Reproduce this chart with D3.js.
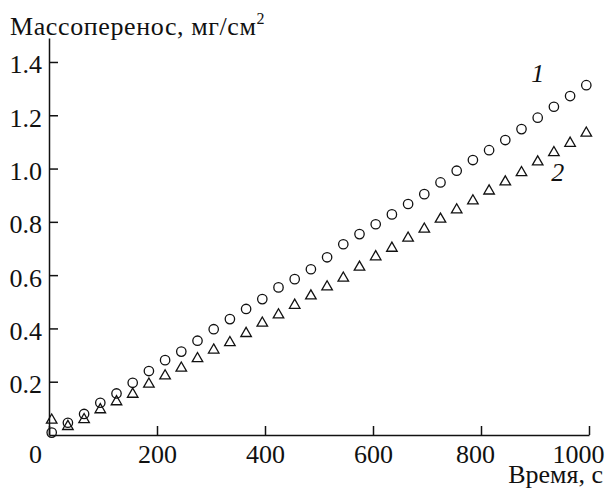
<!DOCTYPE html>
<html><head><meta charset="utf-8">
<script src="https://cdn.jsdelivr.net/npm/d3@7"></script>
<style>
body{margin:0;background:#fff;}
</style></head>
<body><svg id="c" width="605" height="488"></svg>
<script>
const times = [5,35,65,95,125,155,185,215,245,275,305,335,365,395,425,455,485,515,545,575,605,635,665,695,725,755,785,815,845,875,905,935,965,995];
const series1 = [0.009,0.046,0.079,0.121,0.156,0.196,0.240,0.281,0.313,0.354,0.397,0.435,0.473,0.510,0.554,0.585,0.622,0.667,0.716,0.754,0.791,0.828,0.867,0.904,0.948,0.992,1.032,1.069,1.107,1.148,1.191,1.232,1.272,1.313];
const series2 = [0.059,0.035,0.061,0.098,0.128,0.156,0.194,0.225,0.254,0.290,0.322,0.350,0.384,0.423,0.454,0.490,0.525,0.559,0.592,0.633,0.672,0.704,0.742,0.776,0.813,0.848,0.882,0.919,0.953,0.988,1.028,1.063,1.098,1.136];
const xTicks = [0,200,400,600,800,1000];
const yTicks = [0.2,0.4,0.6,0.8,1.0,1.2,1.4];
const yTitle = "Массоперенос, мг/см";
const xTitle = "Время, с";
const seriesLabels = ["1","2"];

const FONT = "'Liberation Serif', Tinos, 'Times New Roman', serif";
const FS = 26;
const svg = d3.select("#c");
const x = d3.scaleLinear().domain([0,1000]).range([49,589]);
const y = d3.scaleLinear().domain([0,1.49]).range([435,38]);

const xAxis = svg.append("g").attr("transform","translate(0,435)")
  .call(d3.axisBottom(x).tickValues(xTicks).tickSize(-9).tickSizeOuter(0).tickFormat(d3.format("d")).tickPadding(10));
const yAxis = svg.append("g").attr("transform","translate(49,0)")
  .call(d3.axisLeft(y).tickValues(yTicks).tickSize(-9).tickSizeOuter(0).tickFormat(d3.format(".1f")).tickPadding(7));
[xAxis,yAxis].forEach(g=>{
  g.attr("font-family",FONT).attr("font-size",FS);
  g.select(".domain").attr("stroke","#111").attr("stroke-width",1.5);
  g.selectAll(".tick line").attr("stroke","#111").attr("stroke-width",1.5);
  g.selectAll(".tick text").style("font-family",FONT).style("font-size",FS+"px").attr("fill","#111");
});
yAxis.selectAll(".tick text").attr("dy","0.42em");
xAxis.selectAll(".tick text").attr("dy","0.71em")
  .attr("dx", d => d===0 ? -14 : d===800 ? -6 : d===1000 ? -11 : 0);

const yt = svg.append("text").attr("x",10).attr("y",35).style("font-family",FONT).style("font-size",FS+"px")
  .style("letter-spacing","0.6px").attr("fill","#111").text(yTitle);
yt.append("tspan").style("font-size","16px").attr("dy",-11).text("2");
svg.append("text").attr("x",603).attr("y",483).attr("text-anchor","end").style("font-family",FONT).style("font-size",FS+"px").attr("fill","#111").text(xTitle);

svg.append("g").selectAll("circle").data(times.map((t,i)=>[t,series1[i]])).join("circle")
  .attr("cx",d=>x(d[0])).attr("cy",d=>y(d[1])).attr("r",4.7)
  .attr("fill","none").attr("stroke","#111").attr("stroke-width",1.3);

const tri = d3.symbol().type(d3.symbolTriangle).size(48);
svg.append("g").selectAll("path").data(times.map((t,i)=>[t,series2[i]])).join("path")
  .attr("d",tri).attr("transform",d=>`translate(${x(d[0])},${y(d[1])+0.8})`)
  .attr("fill","none").attr("stroke","#111").attr("stroke-width",1.3);

svg.append("text").attr("x",x(905)).attr("y",y(1.325)).style("font-family",FONT).style("font-size",FS+"px").style("font-style","italic").attr("fill","#111").attr("text-anchor","middle").text(seriesLabels[0]);
svg.append("text").attr("x",x(942)).attr("y",y(0.955)).style("font-family",FONT).style("font-size",FS+"px").style("font-style","italic").attr("fill","#111").attr("text-anchor","middle").text(seriesLabels[1]);
</script></body></html>
